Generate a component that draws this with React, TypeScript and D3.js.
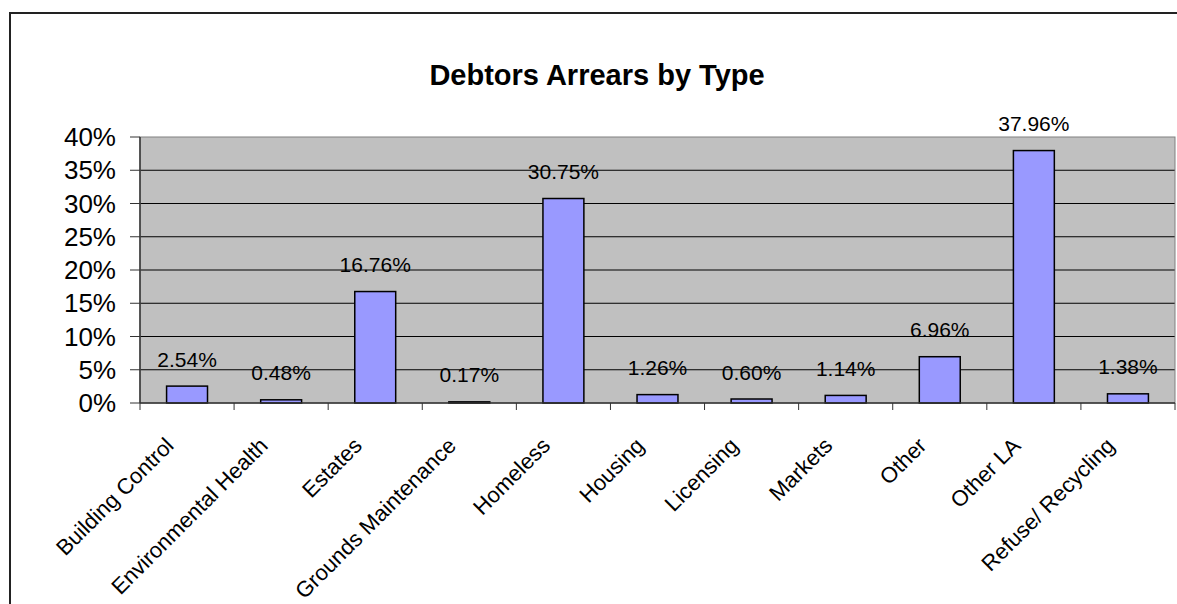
import React from "react";
import * as d3 from "d3";

const categories = [
  "Building Control",
  "Environmental Health",
  "Estates",
  "Grounds Maintenance",
  "Homeless",
  "Housing",
  "Licensing",
  "Markets",
  "Other",
  "Other LA",
  "Refuse/ Recycling",
];
const values = [2.54, 0.48, 16.76, 0.17, 30.75, 1.26, 0.6, 1.14, 6.96, 37.96, 1.38];
const yTicks = [0, 5, 10, 15, 20, 25, 30, 35, 40];
const title = "Debtors Arrears by Type";

const W = 1177;
const H = 604;
const plot = { left: 140, right: 1175, top: 137, bottom: 403 };
const FONT = "'Liberation Sans', Arial, Helvetica, sans-serif";

export default function App() {
  const x = d3
    .scaleBand<string>()
    .domain(categories)
    .range([plot.left, plot.right])
    .paddingInner(0.565)
    .paddingOuter(0.565 / 2);
  const y = d3.scaleLinear().domain([0, 40]).range([plot.bottom, plot.top]);
  const step = x.step();
  const boundaries = d3.range(categories.length + 1).map((i) => plot.left + i * step);

  return (
    <svg
      width={W}
      height={H}
      style={{ position: "absolute", left: 0, top: 0, background: "#fff" }}
      fontFamily={FONT}
    >
      <rect x={0} y={0} width={W} height={H} fill="#fff" />
      {/* outer chart border */}
      <rect x={10} y={13} width={1200} height={700} fill="none" stroke="#222" strokeWidth={2} />
      {/* title */}
      <text x={597} y={85} textAnchor="middle" fontSize={29} fontWeight="bold" fill="#000">
        {title}
      </text>
      {/* plot background */}
      <rect
        x={plot.left}
        y={plot.top}
        width={plot.right - plot.left}
        height={plot.bottom - plot.top}
        fill="#C0C0C0"
      />
      {/* gridlines */}
      {yTicks
        .filter((t) => t > 0 && t < 40)
        .map((t) => (
          <line key={"g" + t} x1={plot.left} x2={plot.right} y1={y(t)} y2={y(t)} stroke="#000" strokeWidth={1} />
        ))}
      {/* plot border */}
      <rect
        x={plot.left}
        y={plot.top}
        width={plot.right - plot.left}
        height={plot.bottom - plot.top}
        fill="none"
        stroke="#808080"
        strokeWidth={1}
      />
      {/* bars */}
      {categories.map((c, i) => (
        <rect
          key={c}
          x={x(c)}
          y={y(values[i])}
          width={x.bandwidth()}
          height={plot.bottom - y(values[i])}
          fill="#9999FF"
          stroke="#000"
          strokeWidth={1.5}
        />
      ))}
      {/* axes */}
      <line x1={plot.left} x2={plot.left} y1={plot.top} y2={plot.bottom} stroke="#333" strokeWidth={1.5} />
      <line x1={plot.left} x2={plot.right} y1={plot.bottom} y2={plot.bottom} stroke="#333" strokeWidth={1.5} />
      {yTicks.map((t) => (
        <g key={"yt" + t}>
          <line x1={plot.left - 10} x2={plot.left} y1={y(t)} y2={y(t)} stroke="#333" strokeWidth={1} />
          <text x={116} y={y(t)} dy="0.35em" textAnchor="end" fontSize={26} fill="#000">
            {t + "%"}
          </text>
        </g>
      ))}
      {boundaries.map((bx, i) => (
        <line key={"xt" + i} x1={bx} x2={bx} y1={plot.bottom} y2={plot.bottom + 7} stroke="#333" strokeWidth={1} />
      ))}
      {/* data labels */}
      {categories.map((c, i) => (
        <text
          key={"dl" + c}
          x={(x(c) as number) + x.bandwidth() / 2}
          y={y(values[i]) - 19.5}
          textAnchor="middle"
          fontSize={21}
          fill="#000"
        >
          {values[i].toFixed(2) + "%"}
        </text>
      ))}
      {/* category labels */}
      {categories.map((c) => {
        const cx = (x(c) as number) + x.bandwidth() / 2 - 12;
        const cy = 447;
        return (
          <text
            key={"xl" + c}
            x={cx}
            y={cy}
            textAnchor="end"
            fontSize={22}
            fill="#000"
            transform={`rotate(-45 ${cx} ${cy})`}
          >
            {c}
          </text>
        );
      })}
    </svg>
  );
}
